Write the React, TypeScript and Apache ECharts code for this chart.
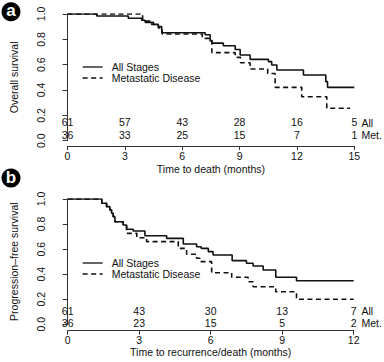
import React, { useEffect, useRef } from "react";
import * as echarts from "echarts";

// Panel a: overall survival (months)
const osAllTimes = [0, 1.53, 3.18, 3.88, 4.06, 4.49, 4.75, 4.93, 7.2, 7.46, 7.56, 8.15, 8.77, 9.03, 9.55, 10.51, 10.68, 10.95, 12.34, 13.51, 13.6, 15];
const osAllSurv = [1.0, 0.984, 0.967, 0.951, 0.934, 0.918, 0.9, 0.852, 0.836, 0.787, 0.77, 0.75, 0.72, 0.676, 0.642, 0.624, 0.597, 0.558, 0.519, 0.466, 0.421, 0.421];
const osMetTimes = [0, 3.93, 4.4, 4.75, 4.95, 7.05, 7.55, 8.77, 9.05, 9.55, 10.47, 10.86, 12.25, 13.56, 14.78];
const osMetSurv = [1.0, 0.944, 0.917, 0.889, 0.842, 0.808, 0.695, 0.658, 0.615, 0.566, 0.53, 0.421, 0.347, 0.256, 0.256];

// Panel b: progression-free survival (months)
const pfsAllTimes = [0, 1.43, 1.63, 1.77, 1.84, 1.91, 1.98, 2.33, 2.47, 2.75, 3.24, 4.15, 4.85, 5.41, 5.6, 5.9, 6.1, 6.9, 7.5, 7.78, 8.2, 8.73, 9.6, 12];
const pfsAllSurv = [1.0, 0.966, 0.939, 0.912, 0.886, 0.859, 0.819, 0.792, 0.758, 0.745, 0.707, 0.686, 0.641, 0.619, 0.606, 0.58, 0.553, 0.508, 0.487, 0.465, 0.433, 0.375, 0.348, 0.348];
const pfsMetTimes = [0, 1.43, 1.63, 1.77, 1.84, 1.91, 1.98, 2.33, 2.47, 2.9, 3.31, 4.64, 4.99, 5.41, 5.55, 6.04, 6.88, 7.57, 7.78, 8.73, 9.6, 12];
const pfsMetSurv = [1.0, 0.966, 0.939, 0.912, 0.886, 0.859, 0.819, 0.792, 0.726, 0.691, 0.66, 0.606, 0.559, 0.527, 0.5, 0.412, 0.375, 0.34, 0.3, 0.26, 0.2, 0.2];

// Numbers at risk (at each 3-month tick)
const osRiskTimes = [0, 3, 6, 9, 12, 15];
const osRiskAll = [61, 57, 43, 28, 16, 5];
const osRiskMet = [36, 33, 25, 15, 7, 1];
const pfsRiskTimes = [0, 3, 6, 9, 12];
const pfsRiskAll = [61, 43, 30, 13, 7];
const pfsRiskMet = [36, 23, 15, 5, 2];

const seriesNames = ["All Stages", "Metastatic Disease"];
const riskRowNames = ["All", "Met."];

const FONT = "Liberation Sans, Arial, Helvetica, sans-serif";
const TXT = "#111";
const AX = "#333";
const FS = 10.5;

const zip = (t: number[], v: number[]) => t.map((x, i) => [x, v[i]]);

export default function App() {
  const ref = useRef<HTMLDivElement>(null);
  useEffect(() => {
    const chart = echarts.init(ref.current!, null, { renderer: "svg" });

    const xAxisCommon = (max: number, name: string, nameGap: number, offset: number, gridIndex: number) => ({
      type: "value",
      gridIndex,
      min: 0,
      max,
      interval: 3,
      offset,
      name,
      nameLocation: "middle",
      nameGap,
      nameTextStyle: { fontSize: FS, color: TXT, fontFamily: FONT },
      axisLine: { show: true, onZero: false, lineStyle: { color: AX, width: 1 } },
      axisTick: { show: true, length: 4, lineStyle: { color: AX } },
      axisLabel: { fontSize: FS, color: TXT, fontFamily: FONT, margin: 4 },
      splitLine: { show: false },
    });
    // invisible axes whose labels carry the numbers at risk
    const riskAxis = (max: number, times: number[], counts: number[], offset: number, gridIndex: number) => ({
      type: "value",
      gridIndex,
      position: "bottom",
      min: 0,
      max,
      interval: 3,
      offset,
      axisLine: { show: false, onZero: false },
      axisTick: { show: false },
      splitLine: { show: false },
      axisLabel: {
        show: true,
        margin: 0,
        verticalAlign: "middle",
        fontSize: FS,
        color: TXT,
        fontFamily: FONT,
        formatter: (v: number) => {
          const i = times.indexOf(v);
          return i >= 0 ? String(counts[i]) : "";
        },
      },
    });
    const yAxisCommon = (name: string, gridIndex: number) => ({
      type: "value",
      gridIndex,
      min: 0,
      max: 1,
      interval: 0.2,
      offset: 12.5,
      name,
      nameLocation: "middle",
      nameGap: 36,
      nameTextStyle: { fontSize: FS, color: TXT, fontFamily: FONT },
      axisLine: { show: true, lineStyle: { color: AX, width: 1 } },
      axisTick: { show: true, length: 5, lineStyle: { color: AX } },
      axisLabel: { fontSize: FS, color: TXT, fontFamily: FONT, rotate: 90, margin: 9, formatter: (v: number) => v.toFixed(1) },
      splitLine: { show: false },
    });

    const kmLine = (name: string, data: number[][], dashed: boolean, idx: number) => ({
      type: "line",
      name,
      xAxisIndex: idx,
      yAxisIndex: idx,
      data,
      step: "end",
      symbol: "none",
      showSymbol: false,
      lineStyle: { color: "#111", width: 1.6, type: dashed ? [5, 3.5] : "solid" },
      itemStyle: { color: "#111" },
      z: dashed ? 2 : 3,
    });

    const legendCommon = (top: number) => ({
      data: seriesNames,
      orient: "vertical",
      left: 77,
      top,
      itemWidth: 20,
      itemHeight: 13,
      itemGap: 0,
      selectedMode: false,
      itemStyle: { color: "rgba(0,0,0,0)", borderColor: "rgba(0,0,0,0)", borderWidth: 0, opacity: 0 },
      lineStyle: { width: 1.3 },
      textStyle: { fontSize: FS, color: TXT, fontFamily: FONT, padding: [0, 0, 0, 4] },
    });

    const rowLabel = (text: string, x: number, y: number) => ({
      type: "text",
      x,
      y,
      style: { text, fontSize: FS, fontFamily: FONT, fill: TXT, textAlign: "left", textVerticalAlign: "middle" },
    });

    const badge = (letter: string, cx: number, cy: number) => ({
      type: "group",
      children: [
        { type: "circle", shape: { cx, cy, r: 9.5 }, style: { fill: "#000" } },
        {
          type: "text",
          x: cx,
          y: cy - 1,
          style: { text: letter, fill: "#fff", fontSize: 17, fontWeight: "bold", fontFamily: FONT, textAlign: "center", textVerticalAlign: "middle" },
        },
      ],
    });

    const option = {
      animation: false,
      grid: [
        { left: 67.5, right: 29.7, top: 14, height: 126.7 },
        { left: 67.7, right: 30.3, top: 199, height: 125.3 },
      ],
      xAxis: [
        xAxisCommon(15, "Time to death (months)", 17.5, 5.3, 0),
        xAxisCommon(12, "Time to recurrence/death (months)", 16, 6.4, 1),
        riskAxis(15, osRiskTimes, osRiskAll, -18.4, 0),
        riskAxis(15, osRiskTimes, osRiskMet, -5.7, 0),
        riskAxis(12, pfsRiskTimes, pfsRiskAll, -13.6, 1),
        riskAxis(12, pfsRiskTimes, pfsRiskMet, -1, 1),
      ],
      yAxis: [yAxisCommon("Overall survival", 0), yAxisCommon("Progression\u2013free survival", 1)],
      legend: [legendCommon(56.5), legendCommon(252.5)],
      series: [
        kmLine(seriesNames[1], zip(osMetTimes, osMetSurv), true, 0),
        kmLine(seriesNames[0], zip(osAllTimes, osAllSurv), false, 0),
        kmLine(seriesNames[1], zip(pfsMetTimes, pfsMetSurv), true, 1),
        kmLine(seriesNames[0], zip(pfsAllTimes, pfsAllSurv), false, 1),
      ],
      graphic: [
        badge("a", 11, 11.7),
        badge("b", 11, 178),
        rowLabel(riskRowNames[0], 361.5, 122.5),
        rowLabel(riskRowNames[1], 361.5, 135),
        rowLabel(riskRowNames[0], 361.5, 310.5),
        rowLabel(riskRowNames[1], 361.5, 323.3),
      ],
    };
    chart.setOption(option as any);
    return () => chart.dispose();
  }, []);
  return <div ref={ref} style={{ position: "absolute", left: 0, top: 0, width: 384, height: 362 }} />;
}
